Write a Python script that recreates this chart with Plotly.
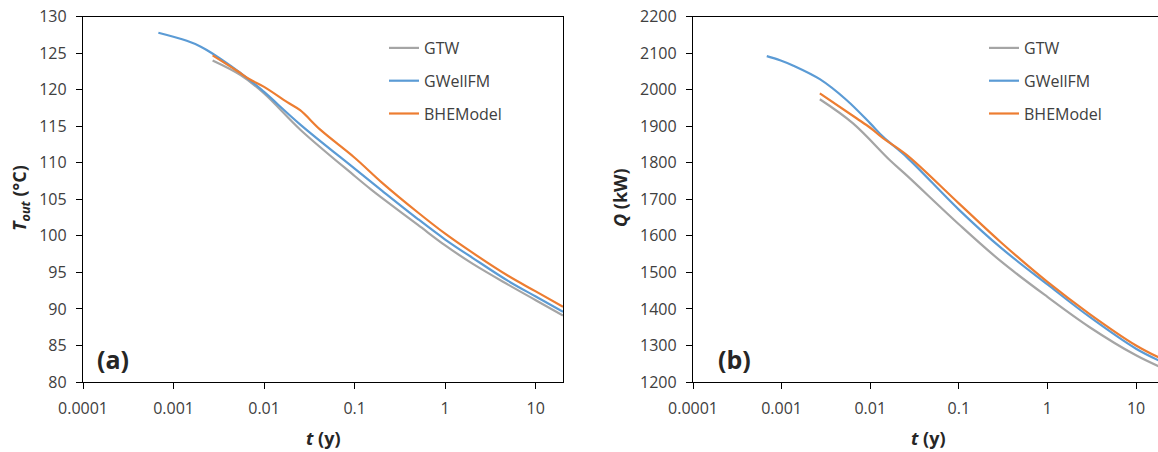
import plotly.graph_objects as go

# ---------------- data: panel (a) outlet temperature ----------------
t_gwellfm_a = [0.00068, 0.0014, 0.002, 0.00266, 0.007, 0.01, 0.0253, 0.1, 0.2, 0.5, 1, 2, 5, 10, 20]
T_gwellfm = [127.8, 126.7, 125.9, 125.0, 121.3, 119.7, 115.2, 109.2, 106.2, 102.3, 99.5, 97.0, 93.8, 91.7, 89.6]
t_bhe_a = [0.0027, 0.005, 0.007, 0.01, 0.018, 0.025, 0.042, 0.1, 0.2, 0.5, 1, 2, 5, 10, 20]
T_bhe = [124.7, 122.6, 121.4, 120.4, 118.3, 117.2, 114.5, 110.7, 107.3, 103.2, 100.3, 97.7, 94.5, 92.4, 90.3]
t_gtw_a = [0.0027, 0.0055, 0.01, 0.0253, 0.1, 0.15, 0.195, 0.5, 1, 2, 5, 10, 20]
T_gtw = [124.0, 122.0, 119.5, 114.5, 108.2, 106.4, 105.3, 101.5, 98.7, 96.2, 93.3, 91.2, 89.1]

# ---------------- data: panel (b) heat rate ----------------
t_gwellfm_b = [0.00068, 0.00096, 0.00136, 0.0027, 0.0054, 0.01, 0.014, 0.026, 0.1, 0.3, 1, 3, 10, 20]
Q_gwellfm = [2092, 2081, 2066, 2029, 1972, 1908, 1871, 1815, 1672, 1567, 1467, 1378, 1291, 1254]
t_bhe_b = [0.0027, 0.007, 0.01, 0.0135, 0.026, 0.1, 0.3, 1, 3, 10, 20]
Q_bhe = [1990, 1922, 1896, 1870, 1821, 1689, 1582, 1474, 1386, 1300, 1262]
t_gtw_b = [0.0027, 0.0064, 0.0167, 0.026, 0.1, 0.3, 1, 3, 10, 20]
Q_gtw = [1974, 1908, 1807, 1765, 1632, 1530, 1433, 1350, 1273, 1238]

x_tickvals = [0.0001, 0.001, 0.01, 0.1, 1, 10]
x_ticktext = ["0.0001", "0.001", "0.01", "0.1", "1", "10"]

C_GTW = "#A5A5A5"
C_GW = "#5B9BD5"
C_BHE = "#ED7D31"
FONT = "Open Sans"
TICKC = "#404040"
TITLEC = "#262626"

fig = go.Figure()

def add(x, y, name, color, xa, ya, leg):
    fig.add_trace(go.Scatter(
        x=x, y=y, name=name, mode="lines",
        line=dict(color=color, width=2.2, shape="spline", smoothing=1.0),
        xaxis=xa, yaxis=ya, legend=leg, legendgroup=name + leg))

add(t_gtw_a, T_gtw, "GTW", C_GTW, "x", "y", "legend")
add(t_gwellfm_a, T_gwellfm, "GWellFM", C_GW, "x", "y", "legend")
add(t_bhe_a, T_bhe, "BHEModel", C_BHE, "x", "y", "legend")
add(t_gtw_b, Q_gtw, "GTW", C_GTW, "x2", "y2", "legend2")
add(t_gwellfm_b, Q_gwellfm, "GWellFM", C_GW, "x2", "y2", "legend2")
add(t_bhe_b, Q_bhe, "BHEModel", C_BHE, "x2", "y2", "legend2")

W, H = 1158, 452
ydom = [70 / H, 435.3 / H]

axis_common = dict(
    showline=True, linecolor="black", linewidth=1.3,
    ticks="outside", ticklen=6, tickwidth=1.3, tickcolor="black",
    showgrid=False, zeroline=False, automargin=False,
    tickfont=dict(family=FONT, size=16, color=TICKC),
)

fig.update_layout(
    width=W, height=H, autosize=False,
    margin=dict(l=0, r=0, t=0, b=0, autoexpand=False),
    paper_bgcolor="white", plot_bgcolor="white",
    xaxis=dict(type="log", range=[-4, 1.30103], domain=[83 / W, 563 / W],
               tickvals=x_tickvals, ticktext=x_ticktext, mirror=True,
               anchor="y", ticklabelstandoff=6, **axis_common),
    yaxis=dict(range=[80, 130], dtick=5, tick0=80, domain=ydom, mirror=True,
               anchor="x", ticklabelstandoff=6, **axis_common),
    xaxis2=dict(type="log", range=[-4, 1.248], domain=[693 / W, 1.0],
                tickvals=x_tickvals, ticktext=x_ticktext, mirror=True,
                anchor="y2", ticklabelstandoff=6, **axis_common),
    yaxis2=dict(range=[1200, 2200], dtick=100, tick0=1200, domain=ydom,
                anchor="x2", ticklabelstandoff=6, **axis_common),
    legend=dict(x=384 / W, y=1 - 31 / H, xanchor="left", yanchor="top",
                font=dict(family=FONT, size=16, color=TICKC),
                bgcolor="rgba(0,0,0,0)", tracegroupgap=9, traceorder="grouped"),
    legend2=dict(x=984 / W, y=1 - 31 / H, xanchor="left", yanchor="top",
                 font=dict(family=FONT, size=16, color=TICKC),
                 bgcolor="rgba(0,0,0,0)", tracegroupgap=9, traceorder="grouped"),
    showlegend=True,
)

ann = [
    dict(text="<b><i>T</i><sub><i>out</i></sub> (°C)</b>", x=20 / W, y=1 - 198 / H,
         textangle=-90, font=dict(size=18)),
    dict(text="<b><i>t</i> (y)</b>", x=323 / W, y=1 - 438 / H, font=dict(size=18)),
    dict(text="<b><i>Q</i> (kW)</b>", x=620 / W, y=1 - 198 / H,
         textangle=-90, font=dict(size=18)),
    dict(text="<b><i>t</i> (y)</b>", x=928 / W, y=1 - 438 / H, font=dict(size=18)),
    dict(text="<b>(a)</b>", x=113 / W, y=1 - 359 / H, font=dict(size=25)),
    dict(text="<b>(b)</b>", x=734 / W, y=1 - 359 / H, font=dict(size=25)),
]
for a in ann:
    a.update(xref="paper", yref="paper", showarrow=False,
             xanchor="center", yanchor="middle")
    a["font"].update(family=FONT, color=TITLEC)
    fig.add_annotation(**a)

fig.write_html("out.html")
